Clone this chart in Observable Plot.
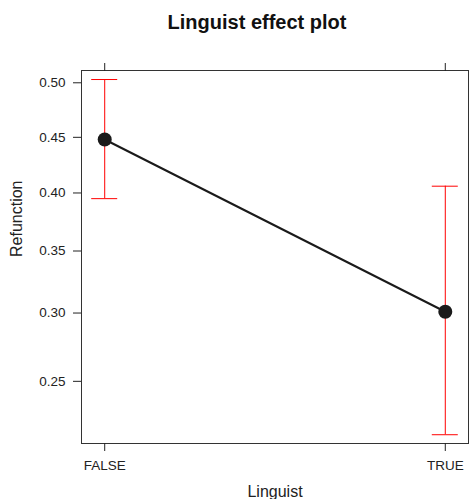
<!DOCTYPE html>
<html>
<head>
<meta charset="utf-8">
<script src="https://cdn.jsdelivr.net/npm/d3@7"></script>
<script src="https://cdn.jsdelivr.net/npm/@observablehq/plot@0.6"></script>
<style>
  body { margin: 0; background: #fff; overflow: hidden; }
  #chart svg { font-family: "Liberation Sans", Arial, Helvetica, sans-serif; }
</style>
</head>
<body>
<div id="chart"></div>
<script>
// ---- data ----
const categories = ["FALSE", "TRUE"];
const fitValues   = [0.448, 0.301];
const lowerValues = [0.395, 0.215];
const upperValues = [0.503, 0.406];
const yTickValues = [0.25, 0.30, 0.35, 0.40, 0.45, 0.50];
const yDomainProb = [0.2096, 0.5113];

const titleText = "Linguist effect plot";
const xLabel = "Linguist";
const yLabel = "Refunction";

// logit scale helpers
const logit = p => Math.log(p / (1 - p));
const invlogit = z => 1 / (1 + Math.exp(-z));

const rows = categories.map((c, i) => ({
  cat: c, fit: fitValues[i], lower: lowerValues[i], upper: upperValues[i]
}));

const yTicks = yTickValues.map(logit);
const fmt = z => invlogit(z).toFixed(2);

const plot = Plot.plot({
  width: 469,
  height: 499,
  marginLeft: 81,
  marginRight: 1,
  marginTop: 70,
  marginBottom: 56,
  style: { color: "#222", background: "#fff", fontSize: "13.5px", overflow: "visible" },
  x: { type: "band", domain: categories, paddingInner: 0.9237, paddingOuter: 0.03, align: 0.5, round: false, label: null },
  y: { type: "linear", domain: yDomainProb.map(logit), label: null },
  marks: [
    Plot.frame({ stroke: "#333" }),
    Plot.axisX({ anchor: "bottom", tickSize: 8, tickPadding: 9, fontSize: 13.5, label: null }),
    Plot.axisX({ anchor: "top", tickSize: 8, tickFormat: () => "", label: null }),
    Plot.axisY({ anchor: "left", ticks: yTicks, tickFormat: fmt, tickSize: 8, tickPadding: 8, fontSize: 13.5, label: null }),
    Plot.axisY({ anchor: "right", ticks: yTicks, tickFormat: () => "", tickSize: 8, label: null }),
    // error bars
    Plot.ruleX(rows, { x: "cat", y1: d => logit(d.lower), y2: d => logit(d.upper), stroke: "red", strokeWidth: 1 }),
    Plot.tickY(rows, { x: "cat", y: d => logit(d.lower), stroke: "red", strokeWidth: 1 }),
    Plot.tickY(rows, { x: "cat", y: d => logit(d.upper), stroke: "red", strokeWidth: 1 }),
    // fitted line and points
    Plot.line(rows, { x: "cat", y: d => logit(d.fit), stroke: "#1a1a1a", strokeWidth: 2 }),
    Plot.dot(rows, { x: "cat", y: d => logit(d.fit), r: 7, fill: "#1a1a1a", stroke: "none" }),
    // titles
    Plot.text([titleText], { text: d => d, frameAnchor: "top", lineAnchor: "bottom", dx: -18, dy: -41.7, fontSize: 20, fontWeight: "bold", fill: "#111" }),
    Plot.text([xLabel], { text: d => d, frameAnchor: "bottom", lineAnchor: "bottom", dy: 53, fontSize: 16, fill: "#222" }),
    Plot.text([yLabel], { text: d => d, frameAnchor: "left", lineAnchor: "middle", rotate: -90, dx: -64.3, fontSize: 16, fill: "#222" })
  ]
});
document.getElementById("chart").appendChild(plot);
</script>
</body>
</html>
